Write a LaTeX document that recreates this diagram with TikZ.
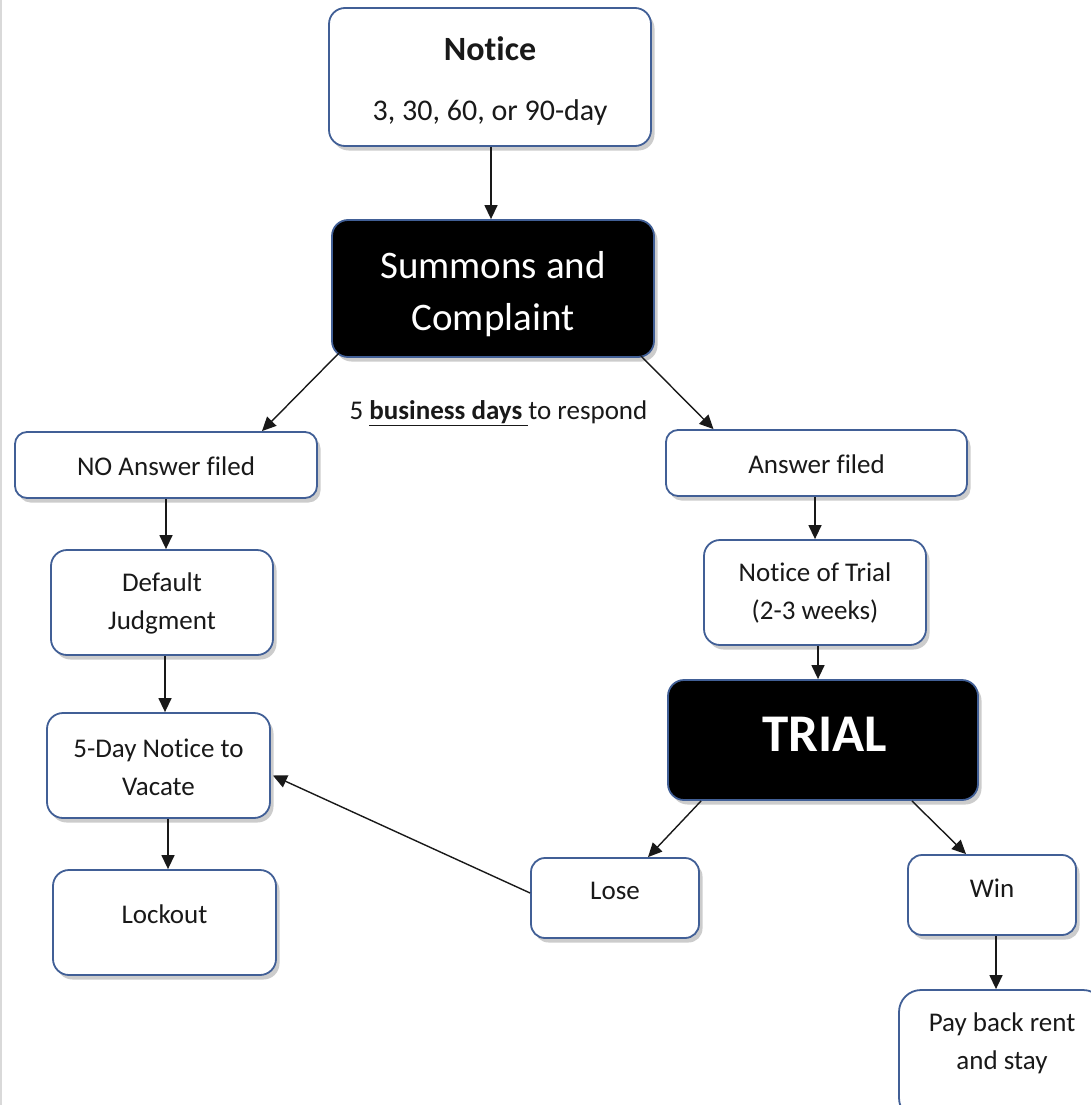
\documentclass[tikz,border=0pt]{standalone}
\usepackage{fontspec}
\setmainfont{Carlito}[Ligatures=NoCommon]
\usetikzlibrary{arrows.meta,shadows,calc}
\definecolor{bord}{RGB}{65,95,150}
\begin{document}
\begin{tikzpicture}[x=1pt,y=-1pt,
  box/.style={draw=bord, line width=1.8pt, rounded corners=16pt, fill=white, inner sep=0pt,
    drop shadow={shadow xshift=3.5pt, shadow yshift=-4.5pt, opacity=0.4}},
  dark/.style={box, fill=black},
  txt/.style={font=\fontsize{27}{38}\selectfont, align=center, inner sep=0pt, text=black!90},
  arr/.style={-{Triangle[length=14pt,width=13pt]}, line width=1.4pt, black!90}]
\useasboundingbox (0,0) rectangle (1091,1105);
\clip (0,0) rectangle (1091,1105);
\draw[black!15, line width=2pt] (1,0) -- (1,1105);

% boxes
\node[box, minimum width=322pt, minimum height=138pt] (notice) at (490,77) {};
\node[dark, minimum width=322pt, minimum height=137pt] (summons) at (493,288.5) {};
\node[box, rounded corners=12pt, minimum width=302pt, minimum height=66pt] (no) at (166,465) {};
\node[box, rounded corners=12pt, minimum width=301pt, minimum height=66pt] (ans) at (816.5,463) {};
\node[box, minimum width=222pt, minimum height=105pt] (def) at (162,602.5) {};
\node[box, minimum width=223pt, minimum height=105pt] (vac) at (158.5,765.5) {};
\node[box, minimum width=223pt, minimum height=105pt] (lock) at (164.5,922.5) {};
\node[box, minimum width=222pt, minimum height=105pt] (trialnotice) at (815,592.5) {};
\node[dark, minimum width=310pt, minimum height=120pt] (trial) at (823,740) {};
\node[box, rounded corners=14pt, minimum width=168pt, minimum height=80pt] (lose) at (615,898) {};
\node[box, rounded corners=14pt, minimum width=168pt, minimum height=80pt] (win) at (992,895) {};
\node[box, rounded corners=22pt, minimum width=206pt, minimum height=130pt] (pay) at (1002,1055) {};

% texts
\node[txt, font=\fontsize{34}{40}\selectfont\bfseries] (tnotice) at (490,49) {Notice};
\node[txt, font=\fontsize{30}{36}\selectfont] (tnotice2) at (490,113) {3, 30, 60, or 90-day};
\node[txt, font=\fontsize{39}{52}\selectfont, text=white] (tsummons) at (493,294) {Summons and\\Complaint};
\node[txt] (tbiz) at (498.5,413) {5 \underline{\textbf{business days\ }}to respond};
\node[txt] (tno) at (166,466) {NO Answer filed};
\node[txt] (tans) at (816.5,464) {Answer filed};
\node[txt] (tdef) at (162,603) {Default\\Judgment};
\node[txt] (tvac) at (158.5,767) {5-Day Notice to\\Vacate};
\node[txt] (tlock) at (164.5,914) {Lockout};
\node[txt] (ttn) at (815,593) {Notice of Trial\\(2-3 weeks)};
\node[txt, font=\fontsize{53}{60}\selectfont\bfseries, text=white] (ttrial) at (825,734) {TRIAL};
\node[txt] (tlose) at (615,891) {Lose};
\node[txt] (twin) at (992,888) {Win};
\node[txt] (tpay) at (1002,1043) {Pay back rent\\and stay};

% connectors
\coordinate (c1) at ($(notice.south)+(1,0)$);
\draw[arr] (c1) -- (c1 |- summons.north);
\draw[arr] ($(summons.south west)+(8,-5)$) -- ($(no.north)+(96,0)$);
\draw[arr] ($(summons.south east)+(-14,-2)$) -- ($(ans.north)+(-103,0)$);
\draw[arr] (no.south) -- (no.south |- def.north);
\coordinate (c2) at ($(def.south)+(3,0)$);
\draw[arr] (c2) -- (c2 |- vac.north);
\coordinate (c3) at ($(vac.south)+(9.5,0)$);
\draw[arr] (c3) -- (c3 |- lock.north);
\coordinate (c4) at ($(ans.south)+(-1.5,0)$);
\draw[arr] (c4) -- (c4 |- trialnotice.north);
\coordinate (c5) at ($(trialnotice.south)+(3,0)$);
\draw[arr] (c5) -- (c5 |- trial.north);
\draw[arr] ($(trial.south west)+(34,0)$) -- ($(lose.north)+(33,0)$);
\draw[arr] ($(trial.south east)+(-67,0)$) -- ($(win.north)+(-26,0)$);
\draw[arr] ($(lose.west)+(0,-5)$) -- ($(vac.east)+(2,10)$);
\coordinate (c6) at ($(win.south)+(4,0)$);
\draw[arr] (c6) -- (c6 |- pay.north);
\end{tikzpicture}
\end{document}
